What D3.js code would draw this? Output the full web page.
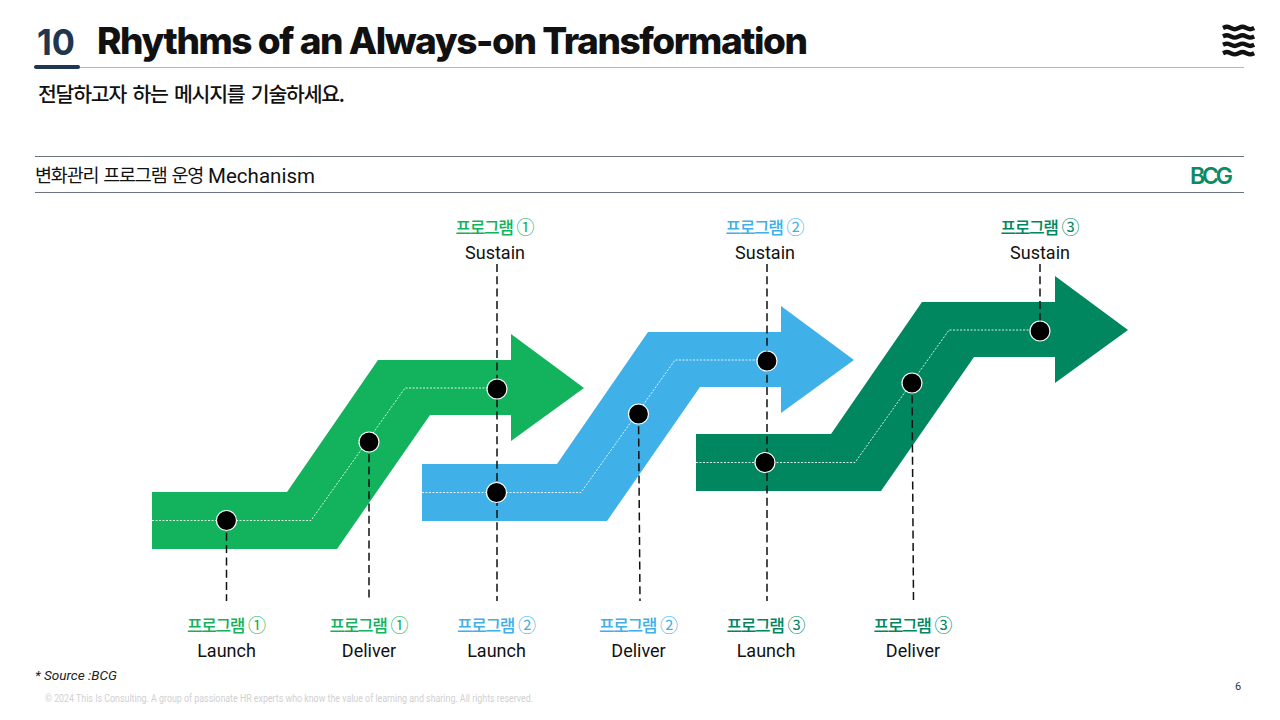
<!DOCTYPE html>
<html>
<head>
<meta charset="utf-8">
<script src="https://cdn.jsdelivr.net/npm/d3@7"></script>
<style>
  html, body { margin: 0; padding: 0; background: #fff; }
  svg { display: block; }
  text { font-family: "Noto Sans CJK KR", sans-serif; }
  .latin { font-family: Roboto, sans-serif; }
  .inter { font-family: Inter, sans-serif; }
</style>
</head>
<body>
<div id="chart"></div>
<script>
// three programs, each one rides the same arrow shifted right and up
const programName = '프로그램';
const programMarks = ['①', '②', '③'];
const programColors = ['#12b35c', '#3fb0e8', '#00875f'];
const stages = ['Launch', 'Deliver', 'Sustain'];
const programStart = [0, 270, 544];
const programRise = [0, 28, 58];

// arrow outline (offset from left edge / from bottom edge)
const outlineX = [0, 135, 226, 359, 359, 432, 359, 359, 278, 185, 0];
const outlineY = [57, 57, 189, 189, 215, 161, 108, 134, 134, 0, 0];
// dotted centre line of the arrow
const centerX = [0, 159, 253, 345];
const centerY = [28.5, 28.5, 161, 161];

// where the milestones sit on each program
const stageX = [
  [74.5, 217, 345],
  [74.5, 216.5, 345],
  [69, 216, 344]
];
const stageY = [
  [28.5, 107, 160],
  [28.5, 107, 160],
  [28.5, 108, 160]
];

const width = 1280, height = 720;
const plot = { left: 152, right: 1128, top: 276, bottom: 549 };

const x = d3.scaleLinear().domain([0, plot.right - plot.left]).range([plot.left, plot.right]);
const y = d3.scaleLinear().domain([0, plot.bottom - plot.top]).range([plot.bottom, plot.top]);

const svg = d3.select('#chart').append('svg')
  .attr('width', width)
  .attr('height', height);

// header
svg.append('text').attr('x', 37).attr('y', 55)
  .attr('class', 'inter')
  .attr('font-size', 36).attr('font-weight', 700).attr('fill', '#1f3650')
  .attr('textLength', 38).attr('lengthAdjust', 'spacingAndGlyphs')
  .text('10');
svg.append('text').attr('x', 97).attr('y', 54)
  .attr('class', 'inter')
  .attr('font-size', 37).attr('font-weight', 800).attr('fill', '#111')
  .attr('textLength', 711).attr('lengthAdjust', 'spacing')
  .text('Rhythms of an Always-on Transformation');
svg.append('line').attr('x1', 34).attr('x2', 1244).attr('y1', 67.5).attr('y2', 67.5)
  .attr('stroke', '#b4b6bb').attr('stroke-width', 1);
svg.append('line').attr('x1', 36).attr('x2', 78).attr('y1', 67).attr('y2', 67)
  .attr('stroke', '#1f3650').attr('stroke-width', 4).attr('stroke-linecap', 'round');
svg.append('text').attr('x', 38).attr('y', 102)
  .attr('font-size', 20.5).attr('font-weight', 500).attr('fill', '#111')
  .style('letter-spacing', '-1.25px').style('word-spacing', '3px')
  .text('전달하고자 하는 메시지를 기술하세요.');

// wave logo top right
const waveLine = d3.line().curve(d3.curveBasis);
d3.range(4).forEach(i => {
  const wy = 28 + i * 8.4;
  svg.append('path')
    .attr('d', waveLine(d3.range(0, 9).map(k => [1223 + k * 3.9, wy + (k % 4 === 1 ? -1.8 : k % 4 === 3 ? 1.8 : 0)])))
    .attr('fill', 'none').attr('stroke', '#111').attr('stroke-width', 4.4);
});

// section band
[156.5, 192.5].forEach(ly => {
  svg.append('line').attr('x1', 35).attr('x2', 1244).attr('y1', ly).attr('y2', ly)
    .attr('stroke', '#6d7280').attr('stroke-width', 1);
});
svg.append('text').attr('x', 35).attr('y', 182)
  .attr('font-size', 18.5).attr('fill', '#111')
  .style('letter-spacing', '-1.2px').style('word-spacing', '2px')
  .text('변화관리 프로그램 운영');
svg.append('text').attr('x', 208).attr('y', 183)
  .attr('class', 'latin')
  .attr('font-size', 21).attr('fill', '#111')
  .attr('textLength', 107).attr('lengthAdjust', 'spacingAndGlyphs')
  .text('Mechanism');
svg.append('text').attr('x', 1190).attr('y', 184)
  .attr('class', 'inter')
  .attr('font-size', 23).attr('font-weight', 600).attr('fill', '#0b8a66')
  .attr('textLength', 43).attr('lengthAdjust', 'spacing')
  .text('BCG');

// arrows
const outlinePts = outlineX.map((d, i) => [d, outlineY[i]]);
const centerPts = centerX.map((d, i) => [d, centerY[i]]);
const arrowLine = (pts, p) => d3.line()
  .x(d => x(d[0] + programStart[p]))
  .y(d => y(d[1] + programRise[p]))(pts);

const arrows = svg.selectAll('.arrow')
  .data(programMarks)
  .enter().append('g')
    .attr('class', 'arrow');

arrows.append('path')
  .attr('d', (d, i) => arrowLine(outlinePts, i) + 'Z')
  .attr('fill', (d, i) => programColors[i]);

arrows.append('path')
  .attr('d', (d, i) => arrowLine(centerPts, i))
  .attr('fill', 'none')
  .attr('stroke', '#fff')
  .attr('stroke-opacity', 0.85)
  .attr('stroke-width', 1)
  .attr('stroke-dasharray', '2 1.5');

// flatten milestones so every stage of every program gets a marker + label
const milestones = programMarks.flatMap((mark, p) => stages.map((stage, s) => ({
  mark, stage, p, s,
  px: x(stageX[p][s] + programStart[p]),
  py: y(stageY[p][s] + programRise[p])
})));

// leader lines: the first two sustain lines run the full height and also
// serve the next program's launch, so those launches get no line of their own
const leaderTop = 264, leaderBottom = 601;
const leaders = milestones.filter(d => !(d.s === 0 && d.p > 0));

svg.selectAll('.leader')
  .data(leaders)
  .enter().append('line')
    .attr('class', 'leader')
    .attr('x1', d => d.px)
    .attr('y1', d => d.s === 2 ? leaderTop : d.py)
    .attr('x2', d => d.s === 1 && d.p > 0 ? d.px + 1.5 : d.px)
    .attr('y2', d => d.s === 2 && d.p === 2 ? d.py : leaderBottom)
    .attr('stroke', '#111')
    .attr('stroke-width', 1.5)
    .attr('stroke-dasharray', '8 4.3');

svg.selectAll('.dot')
  .data(milestones)
  .enter().append('circle')
    .attr('class', 'dot')
    .attr('cx', d => d.px)
    .attr('cy', d => d.py)
    .attr('r', 10)
    .attr('fill', '#000')
    .attr('stroke', '#fff')
    .attr('stroke-width', 1.2);

// labels: the top two sit a little left of their line, third launch a little right
const labelShift = d => d.s === 2 ? (d.p < 2 ? -2 : 0) : (d.p === 2 ? 1 : 0);

const labels = svg.selectAll('.label')
  .data(milestones)
  .enter().append('g')
    .attr('class', 'label')
    .attr('transform', d => `translate(${d.px + labelShift(d)},${d.s === 2 ? 0 : 398})`);

const heads = labels.append('text')
  .attr('y', 234)
  .attr('text-anchor', 'middle')
  .attr('font-size', 17)
  .attr('font-weight', 500)
  .attr('fill', d => programColors[d.p]);
heads.append('tspan')
  .style('letter-spacing', '-1.4px')
  .text(programName);
heads.append('tspan')
  .attr('dx', 4)
  .attr('font-size', 18)
  .attr('font-weight', 400)
  .text(d => d.mark);

labels.append('text')
  .attr('class', 'latin')
  .attr('y', 259)
  .attr('text-anchor', 'middle')
  .attr('font-size', 18)
  .attr('fill', '#111')
  .text(d => d.stage);

// footer
svg.append('text').attr('x', 35).attr('y', 680)
  .attr('class', 'latin')
  .attr('font-size', 13).attr('font-style', 'italic').attr('fill', '#222')
  .attr('textLength', 82).attr('lengthAdjust', 'spacingAndGlyphs')
  .text('* Source :BCG');
svg.append('text').attr('x', 45).attr('y', 702)
  .attr('class', 'latin')
  .attr('font-size', 10).attr('fill', '#d0d0d2')
  .attr('textLength', 488).attr('lengthAdjust', 'spacingAndGlyphs')
  .text('© 2024 This Is Consulting. A group of passionate HR experts who know the value of learning and sharing. All rights reserved.');
svg.append('text').attr('x', 1238).attr('y', 690)
  .attr('class', 'latin')
  .attr('text-anchor', 'middle')
  .attr('font-size', 11).attr('fill', '#333')
  .text('6');
</script>
</body>
</html>
